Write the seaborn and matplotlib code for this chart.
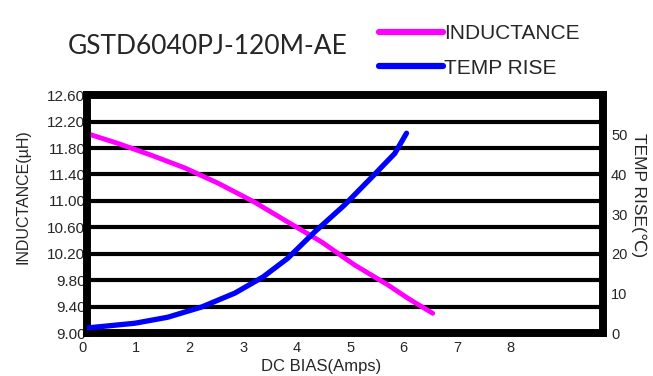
import numpy as np
import pandas as pd
import seaborn as sns
import matplotlib.pyplot as plt
from matplotlib.lines import Line2D
from matplotlib.transforms import ScaledTranslation

# values
bias_l = [0, 0.58, 1.21, 1.83, 2.45, 3.14, 3.76, 4.39, 5.01, 5.63, 6.00, 6.47]
inductance = [12.02, 11.87, 11.69, 11.50, 11.27, 10.98, 10.68, 10.38, 10.03, 9.73, 9.53, 9.30]
bias_t = [0, 0.90, 1.51, 2.15, 2.77, 3.30, 3.76, 4.26, 4.82, 5.33, 5.76, 5.98]
temp_rise = [1.3, 2.5, 4.0, 6.6, 10.1, 14.2, 18.9, 25.5, 32.3, 39.3, 45.3, 50.4]

l_ticks = [9.00, 9.40, 9.80, 10.20, 10.60, 11.00, 11.40, 11.80, 12.20, 12.60]
t_ticks = [0, 10, 20, 30, 40, 50]
x_ticks = [0, 1, 2, 3, 4, 5, 6, 7, 8]

df_l = pd.DataFrame({'bias': bias_l, 'val': inductance})
df_t = pd.DataFrame({'bias': bias_t, 'val': temp_rise})

sns.set_style("white")
plt.rcParams['font.family'] = ['Liberation Sans', 'DejaVu Sans']

fig = plt.figure(figsize=(6.53, 3.76), dpi=100)
ax = fig.add_axes([0.133, 0.114, 0.79, 0.633])
ax2 = ax.twinx()

sns.lineplot(data=df_l, x='bias', y='val', ax=ax, color='#ff00ff', lw=3.5, zorder=5)
sns.lineplot(data=df_t, x='bias', y='val', ax=ax2, color='#0000ff', lw=3.8, zorder=5)

ax.set_xlim(0, 9.65)
ax.set_ylim(9.0, 12.6)
ax2.set_ylim(0, 60)

ax.set_yticks(l_ticks)
ax.set_yticklabels([f'{v:.2f}' for v in l_ticks], fontsize=11)
ax.yaxis.grid(True, color='black', lw=3)
ax.set_axisbelow(True)
ax.tick_params(axis='y', length=0, pad=1)

ax.set_xticks(x_ticks)
ax.set_xticklabels([str(v) for v in x_ticks], fontsize=10.5)
ax.tick_params(axis='x', direction='in', length=5, width=2, pad=6, color='black')
off = ScaledTranslation(-4 / 100, 0, fig.dpi_scale_trans)
for lab in ax.get_xticklabels():
    lab.set_transform(lab.get_transform() + off)

ax2.set_yticks(t_ticks)
ax2.set_yticklabels([str(v) for v in t_ticks], fontsize=10.5)
ax2.tick_params(axis='y', length=0, pad=6)

for a in (ax, ax2):
    for s in a.spines.values():
        s.set_color('black')
        s.set_linewidth(5.5)

ax.set_xlabel('DC BIAS(Amps)', fontsize=12)
ax.xaxis.set_label_coords(0.455, -0.108)
ax.set_ylabel('INDUCTANCE(µH)', fontsize=11.5)
ax.yaxis.set_label_coords(-0.11, 0.575)
ax2.set_ylabel('TEMP RISE(℃)', fontsize=12.5, rotation=-90)
ax2.yaxis.set_label_coords(1.069, 0.58)
ax2.yaxis.label.set_va('center')

fig.text(0.104, 0.875, 'GSTD6040PJ-120M-AE', fontsize=19, family=['Lato', 'DejaVu Sans'],
         va='center', ha='left')

handles = [Line2D([], [], color='#ff00ff', lw=4.5), Line2D([], [], color='#0000ff', lw=4.5)]
fig.legend(handles, ['INDUCTANCE', 'TEMP RISE'], loc='center left',
           bbox_to_anchor=(0.551, 0.865), frameon=False, handlelength=3.1,
           handletextpad=0.05, labelspacing=0.75,
           prop={'family': ['Liberation Sans', 'DejaVu Sans'], 'size': 15})

fig.savefig('out.png', dpi=100)
